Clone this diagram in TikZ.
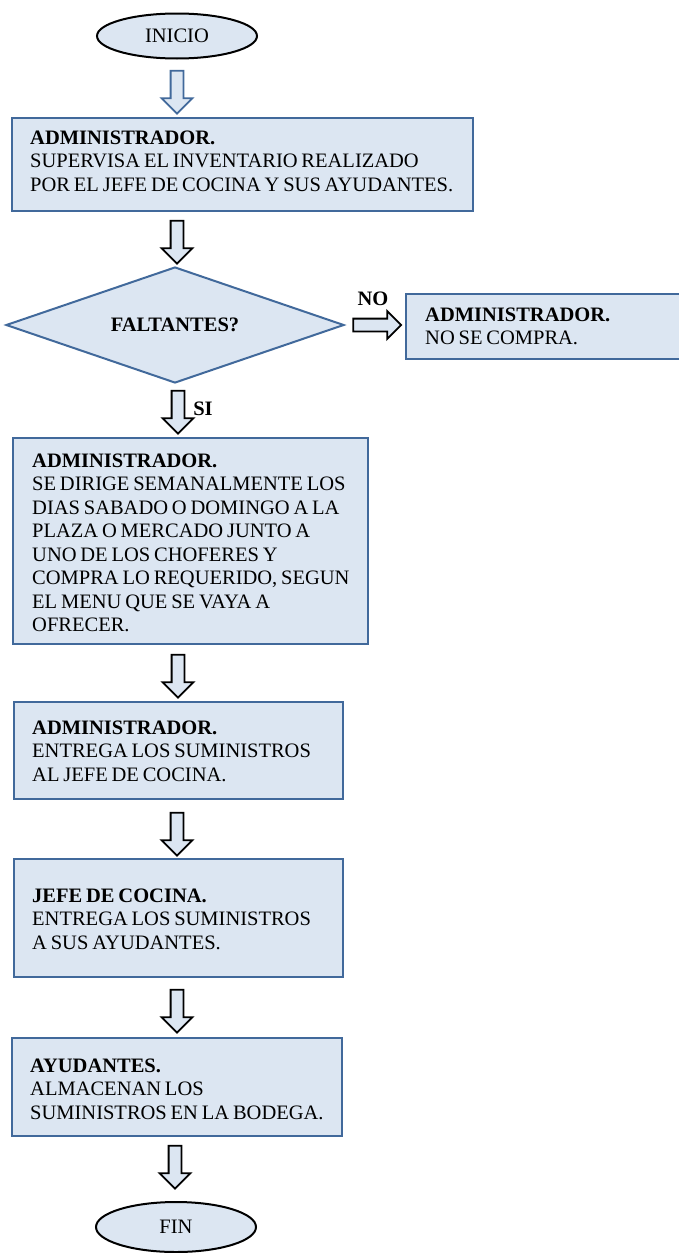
\documentclass[tikz,border=0pt]{standalone}
\usepackage{fontspec}
\setmainfont{Liberation Serif}[WordSpace=0.75]
\usetikzlibrary{shapes.geometric,shapes.arrows,calc}
\definecolor{boxfill}{RGB}{220,230,242}
\definecolor{boxline}{RGB}{65,105,155}
\newcommand\flowfont{\fontsize{20.5}{23.5}\selectfont}

\begin{document}
\begin{tikzpicture}[x=1pt,y=-1pt,
  procbox/.style={draw=boxline, line width=2.4pt, fill=boxfill, rectangle,
    inner sep=0pt, anchor=north west},
  term/.style={draw=black, line width=2pt, fill=boxfill, ellipse,
    inner sep=0pt, font=\flowfont},
  decision/.style={draw=boxline, line width=2pt, fill=boxfill, diamond,
    shape aspect=2.9, inner sep=0pt, font=\flowfont\bfseries},
  bodytext/.style={anchor=north west, inner sep=0pt, align=left, font=\flowfont},
  tag/.style={inner sep=0pt, font=\flowfont\bfseries},
  flowarrow/.style={single arrow, draw=black, line width=1.8pt, fill=boxfill,
    inner sep=5.5pt, minimum height=43pt, minimum width=29pt,
    single arrow head extend=9pt, single arrow tip angle=90},
  pointdown/.style={shape border rotate=270},
  pointright/.style={shape border rotate=0},
]
% page area
\fill[white] (0,0) rectangle (679,1253);
\useasboundingbox (0,0) rectangle (679,1253);

% terminals
\node[term, minimum width=160pt, minimum height=45pt] (start) at (177,36) {INICIO};
\node[term, minimum width=160pt, minimum height=50pt] (stop) at (176,1227) {FIN};

% process boxes
\node[procbox, minimum width=461pt, minimum height=93pt] (b1) at (11,117) {};
\node[bodytext] (t1) at (30,130.5) {\textbf{ADMINISTRADOR.}\\SUPERVISA EL INVENTARIO REALIZADO\\POR EL JEFE DE COCINA Y SUS AYUDANTES.};

\node[decision, minimum width=338pt, minimum height=116pt] (q) at (175,325) {FALTANTES?};

\node[procbox, minimum width=280pt, minimum height=65pt] (bno) at (405,293) {};
\node[bodytext] (tno) at (425,307.5) {\textbf{ADMINISTRADOR.}\\NO SE COMPRA.};

\node[procbox, minimum width=355pt, minimum height=206pt] (b3) at (12,437) {};
\node[bodytext] (t3) at (32,453.5) {\textbf{ADMINISTRADOR.}\\SE DIRIGE SEMANALMENTE LOS\\DIAS SABADO O DOMINGO A LA\\PLAZA O MERCADO JUNTO A\\UNO DE LOS CHOFERES Y\\COMPRA LO REQUERIDO, SEGUN\\EL MENU QUE SE VAYA A\\OFRECER.};

\node[procbox, minimum width=329pt, minimum height=97pt] (b4) at (13,701) {};
\node[bodytext] (t4) at (32,720.5) {\textbf{ADMINISTRADOR.}\\ENTREGA LOS SUMINISTROS\\AL JEFE DE COCINA.};

\node[procbox, minimum width=329pt, minimum height=118pt] (b5) at (13,858) {};
\node[bodytext] (t5) at (32,888.5) {\textbf{JEFE DE COCINA.}\\ENTREGA LOS SUMINISTROS\\A SUS AYUDANTES.};

\node[procbox, minimum width=330pt, minimum height=98pt] (b6) at (11,1037) {};
\node[bodytext] (t6) at (30,1058.5) {\textbf{AYUDANTES.}\\ALMACENAN LOS\\SUMINISTROS EN LA BODEGA.};

% block arrows between the steps
\node[flowarrow, pointdown, draw=boxline] (a1) at (177,89) {};
\node[flowarrow, pointdown] (a2) at (177,239) {};
\node[flowarrow, pointdown] (a3) at (178,409) {};
\node[flowarrow, pointdown] (a4) at (178,673) {};
\node[flowarrow, pointdown] (a5) at (177,831) {};
\node[flowarrow, pointdown] (a6) at (177,1008) {};
\node[flowarrow, pointdown] (a7) at (175,1164) {};
\node[flowarrow, pointright, minimum height=48pt, minimum width=26pt,
  single arrow head extend=7.5pt] (ano) at (374,325) {};

% branch labels
\node[tag] (lno) at (373,299) {NO};
\node[tag] (lsi) at (203,409) {SI};
\end{tikzpicture}
\end{document}
